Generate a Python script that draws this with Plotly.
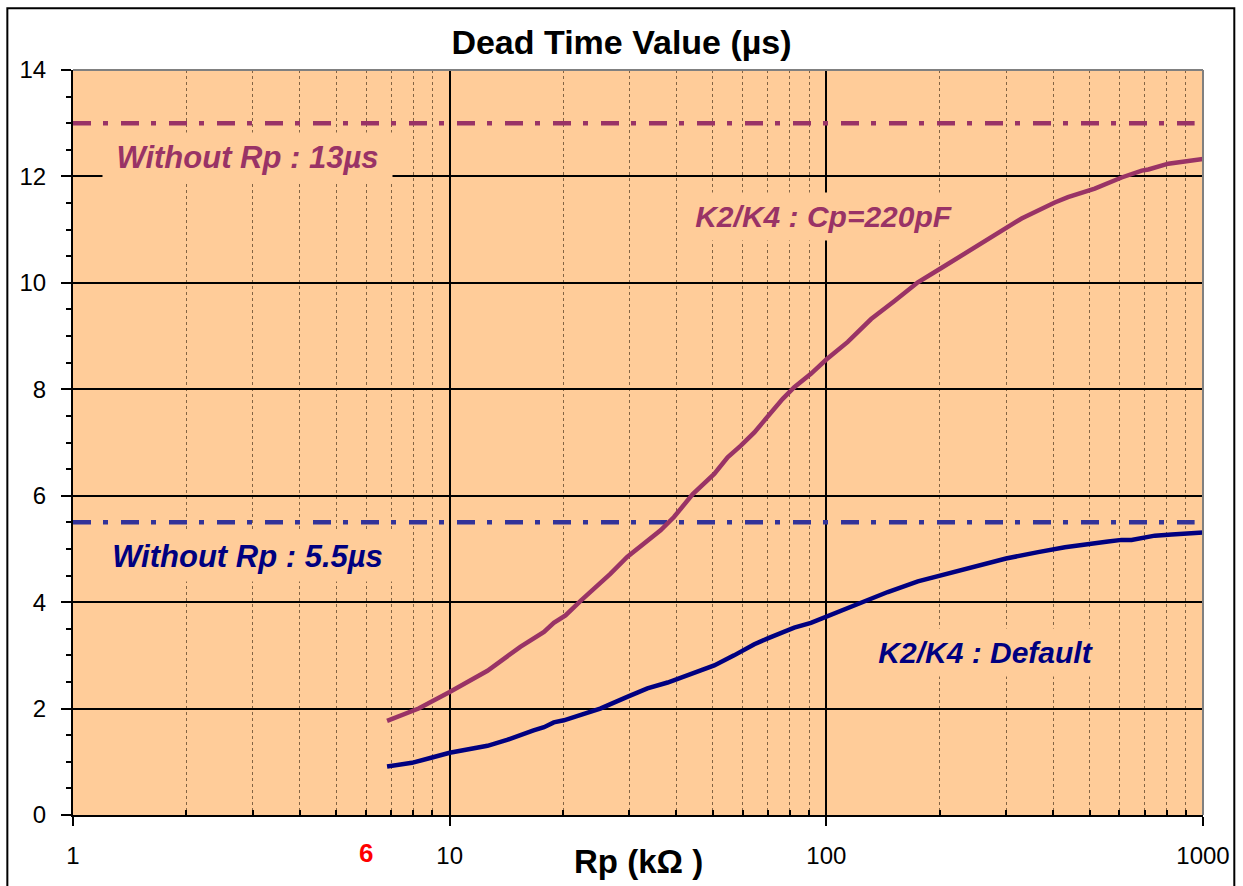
import math
import plotly.graph_objects as go

# ---- data ----
cp_x = [6.82, 8.27, 10, 12.6, 15.4, 17.8, 18.9, 20.3, 22.3, 26.7, 29.6, 36.3, 39.4, 44.2, 50.4,
        54.7, 59.3, 64.4, 76.6, 82.2, 91.0, 100, 114, 131.5, 151.7, 175, 200, 228, 280, 330,
        404, 438, 516, 608, 688, 716, 809, 915, 1000]
cp_y = [1.77, 2.00, 2.31, 2.71, 3.16, 3.44, 3.61, 3.75, 4.03, 4.53, 4.85, 5.35, 5.60, 6.03, 6.41,
        6.72, 6.94, 7.19, 7.82, 8.04, 8.29, 8.56, 8.89, 9.32, 9.66, 10.01, 10.26, 10.51, 10.88, 11.21,
        11.51, 11.61, 11.77, 11.98, 12.11, 12.13, 12.24, 12.28, 12.33]

def_x = [6.82, 7.94, 8.98, 10, 12.6, 14.2, 16.7, 17.8, 18.9, 20.1, 22.3, 25.1, 29.6, 33.5, 37.9,
         40.3, 45.5, 50.4, 56.9, 64.4, 69.9, 82.2, 91, 100, 109.5, 126, 145.6, 175, 200, 242.5,
         300, 365, 430, 560, 608, 646, 745, 826, 915, 1000]
def_y = [0.91, 0.98, 1.08, 1.17, 1.30, 1.41, 1.59, 1.65, 1.74, 1.78, 1.88, 2.00, 2.22, 2.38, 2.49,
         2.56, 2.69, 2.81, 3.00, 3.21, 3.32, 3.52, 3.61, 3.73, 3.85, 4.02, 4.19, 4.39, 4.50, 4.66,
         4.82, 4.94, 5.03, 5.14, 5.17, 5.17, 5.25, 5.27, 5.29, 5.31]

ref_x = [1, 950]
ref_no_rp_cp = [13, 13]
ref_no_rp_def = [5.5, 5.5]

x_ticks = [1, 10, 100, 1000]
x_ticktext = ["1", "10", "100", "1000"]
x_minor = [m * d for d in (1, 10, 100) for m in range(2, 10)]
y_ticks = [0, 2, 4, 6, 8, 10, 12, 14]

PURPLE = "#993366"
NAVY = "#000080"
BLUE_DASH = "#333399"
BG = "#FFCC99"
FONT = "Liberation Sans, Arial, sans-serif"
DASHDOT = "18px,12px,5px,13px"

fig = go.Figure()
fig.add_trace(go.Scatter(x=ref_x, y=ref_no_rp_cp, mode="lines",
                         line=dict(color=PURPLE, width=4.5, dash=DASHDOT), hoverinfo="skip"))
fig.add_trace(go.Scatter(x=ref_x, y=ref_no_rp_def, mode="lines",
                         line=dict(color=BLUE_DASH, width=4.5, dash=DASHDOT), hoverinfo="skip"))
fig.add_trace(go.Scatter(x=cp_x, y=cp_y, mode="lines",
                         line=dict(color=PURPLE, width=4.5), cliponaxis=False))
fig.add_trace(go.Scatter(x=def_x, y=def_y, mode="lines",
                         line=dict(color=NAVY, width=4.5), cliponaxis=False))

def label(text, x, y, color, bw, size=30):
    fig.add_annotation(x=math.log10(x), y=y, xref="x", yref="y", text=text, showarrow=False,
                       font=dict(family=FONT, size=size, color=color, weight="bold", style="italic"),
                       bgcolor=BG, borderpad=7, xanchor="center", yanchor="middle",
                       width=bw)

label("Without Rp : 13µs", 2.9, 12.35, PURPLE, 275, 31)
label("Without Rp : 5.5µs", 2.9, 4.86, NAVY, 275, 31)
label("K2/K4 : Cp=220pF", 98, 11.24, PURPLE, 259)
label("K2/K4 : Default", 265, 3.06, NAVY, 222)

# red "6" marker label under the axis
fig.add_annotation(x=math.log10(6), y=-0.051, xref="x", yref="paper", text="6", showarrow=False,
                   font=dict(family=FONT, size=26, color="#FF0000", weight="bold"),
                   xanchor="center", yanchor="middle")
# x-axis title
fig.add_annotation(x=0.5, y=-0.063, xref="paper", yref="paper", text="Rp (kΩ )", showarrow=False,
                   font=dict(family=FONT, size=33, color="black", weight="bold"),
                   xanchor="center", yanchor="middle")

# plot frame (top + right gray), outer black border
fig.add_shape(type="line", xref="paper", yref="paper", x0=0, x1=1, y0=1, y1=1,
              line=dict(color="#808080", width=2))
fig.add_shape(type="line", xref="paper", yref="paper", x0=1, x1=1, y0=0, y1=1,
              line=dict(color="#808080", width=2))
fig.add_shape(type="rect", xref="paper", yref="paper", x0=-0.0581, x1=1.0277, y0=-0.2, y1=1.0828,
              line=dict(color="black", width=2), fillcolor="rgba(0,0,0,0)")

fig.update_layout(
    width=1243, height=886,
    margin=dict(l=73, r=40, t=70, b=71),
    paper_bgcolor="white", plot_bgcolor=BG,
    showlegend=False,
    title=dict(text="<b>Dead Time Value (µs)</b>", x=0.5, xanchor="center",
               y=1 - 42 / 886, yanchor="middle",
               font=dict(family=FONT, size=34, color="black")),
    font=dict(family=FONT, color="black"),
)

fig.update_xaxes(type="log", range=[0, 3], tickmode="array", tickvals=x_ticks, ticktext=x_ticktext,
                 ticks="outside", ticklen=9, tickwidth=2, tickcolor="black",
                 tickfont=dict(family=FONT, size=24, color="black"), ticklabelstandoff=9,
                 showgrid=True, gridcolor="black", gridwidth=2,
                 showline=True, linecolor="black", linewidth=2, zeroline=False,
                 minor=dict(tickmode="array", tickvals=x_minor, ticks="inside", ticklen=5,
                            tickwidth=2, tickcolor="black", showgrid=True,
                            gridcolor="rgba(90,65,40,0.75)", gridwidth=1, griddash="dot"))
fig.update_yaxes(range=[0, 14], tickmode="array", tickvals=y_ticks,
                 ticks="outside", ticklen=10, tickwidth=2, tickcolor="black",
                 tickfont=dict(family=FONT, size=24, color="black"), ticklabelstandoff=10,
                 showgrid=True, gridcolor="black", gridwidth=2,
                 showline=True, linecolor="black", linewidth=2, zeroline=False,
                 minor=dict(dtick=0.5, ticks="outside", ticklen=5, tickwidth=2, tickcolor="black",
                            showgrid=False))

fig.write_html("out.html", config={"displayModeBar": False},
               post_script="document.body.style.margin='0';")
